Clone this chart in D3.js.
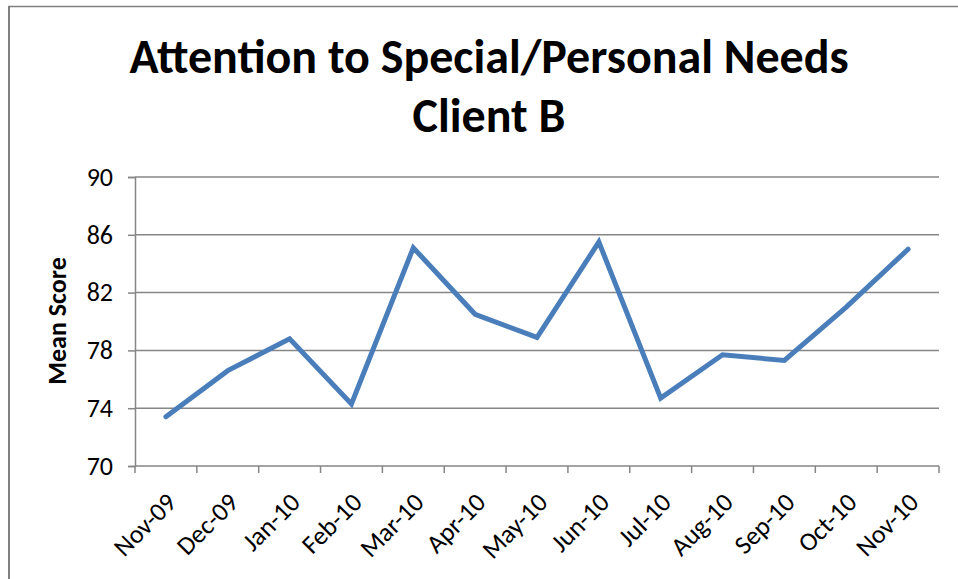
<!DOCTYPE html>
<html>
<head>
<meta charset="utf-8">
<script src="https://cdn.jsdelivr.net/npm/d3@7"></script>
<style>
  body { margin: 0; background: #fff; }
  text { font-family: Carlito, Lato, "Open Sans", sans-serif; }
</style>
</head>
<body>
<div id="chart"></div>
<script>
// data
var months = ["Nov-09", "Dec-09", "Jan-10", "Feb-10", "Mar-10", "Apr-10", "May-10",
  "Jun-10", "Jul-10", "Aug-10", "Sep-10", "Oct-10", "Nov-10"];
var meanScores = [73.4, 76.6, 78.8, 74.3, 85.1, 80.5, 78.9, 85.5, 74.7, 77.7, 77.3, 81.0, 85.0];
var yTicks = [70, 74, 78, 82, 86, 90];

var svgWidth = 958;
var svgHeight = 579;

var margin = { top: 177, right: 19, bottom: 113, left: 135 };
var width = svgWidth - margin.left - margin.right;
var height = svgHeight - margin.top - margin.bottom;

var svg = d3.select("#chart")
  .append("svg")
  .attr("width", svgWidth)
  .attr("height", svgHeight);

// frame (only top and left edges show in the picture)
svg.append("line")
  .attr("x1", 8).attr("x2", svgWidth).attr("y1", 6.5).attr("y2", 6.5)
  .attr("stroke", "#808080").attr("stroke-width", 1.5);
svg.append("line")
  .attr("x1", 9).attr("x2", 9).attr("y1", 6).attr("y2", svgHeight)
  .attr("stroke", "#808080").attr("stroke-width", 2);

// title
svg.append("text")
  .attr("x", 489).attr("y", 73)
  .attr("text-anchor", "middle")
  .attr("font-size", 48).attr("font-weight", "bold")
  .text("Attention to Special/Personal Needs");
svg.append("text")
  .attr("x", 489).attr("y", 132)
  .attr("text-anchor", "middle")
  .attr("font-size", 48).attr("font-weight", "bold")
  .text("Client B");

var chartGroup = svg.append("g")
  .attr("transform", `translate(${margin.left}, ${margin.top})`);

var xScale = d3.scaleBand()
  .domain(months)
  .range([0, width]);

var yScale = d3.scaleLinear()
  .domain([70, 90])
  .range([height, 0]);

// gridlines
chartGroup.selectAll(".grid")
  .data(yTicks.slice(1))
  .enter()
  .append("line")
  .attr("class", "grid")
  .attr("x1", 0).attr("x2", width)
  .attr("y1", d => yScale(d)).attr("y2", d => yScale(d))
  .attr("stroke", "#868686").attr("stroke-width", 1.5);

// y axis
var leftAxis = d3.axisLeft(yScale).tickValues(yTicks).tickSize(7).tickPadding(15);
var yAxis = chartGroup.append("g").call(leftAxis);
yAxis.attr("font-size", null).attr("font-family", null);
yAxis.select(".domain").attr("stroke", "#868686").attr("stroke-width", 1.5);
yAxis.selectAll(".tick line").attr("stroke", "#868686").attr("stroke-width", 1.5);
yAxis.selectAll(".tick text")
  .attr("font-size", 26).attr("fill", "#000");

// x axis with ticks on category boundaries
var xAxis = chartGroup.append("g")
  .attr("transform", `translate(0, ${height})`);
xAxis.append("line")
  .attr("x1", 0).attr("x2", width)
  .attr("stroke", "#868686").attr("stroke-width", 1.5);
var bounds = months.map(m => xScale(m)).concat([width]);
xAxis.selectAll(".xtick")
  .data(bounds)
  .enter()
  .append("line")
  .attr("class", "xtick")
  .attr("x1", d => d).attr("x2", d => d)
  .attr("y1", 0).attr("y2", 7)
  .attr("stroke", "#868686").attr("stroke-width", 1.5);

xAxis.selectAll(".xlabel")
  .data(months)
  .enter()
  .append("text")
  .attr("class", "xlabel")
  .attr("text-anchor", "end")
  .attr("font-size", 26)
  .attr("transform", d => `translate(${xScale(d) + xScale.bandwidth() / 2 + 12}, 38) rotate(-45)`)
  .text(d => d);

// y axis title
svg.append("text")
  .attr("transform", "translate(66, 321) rotate(-90)")
  .attr("text-anchor", "middle")
  .attr("font-size", 26).attr("font-weight", "bold")
  .text("Mean Score");

// the line
var line = d3.line()
  .x((d, i) => xScale(months[i]) + xScale.bandwidth() / 2)
  .y(d => yScale(d));

chartGroup.append("path")
  .datum(meanScores)
  .attr("d", line)
  .attr("fill", "none")
  .attr("stroke", "#4A7EBB")
  .attr("stroke-width", 5)
  .attr("stroke-linejoin", "miter")
  .attr("stroke-linecap", "round");
</script>
</body>
</html>
